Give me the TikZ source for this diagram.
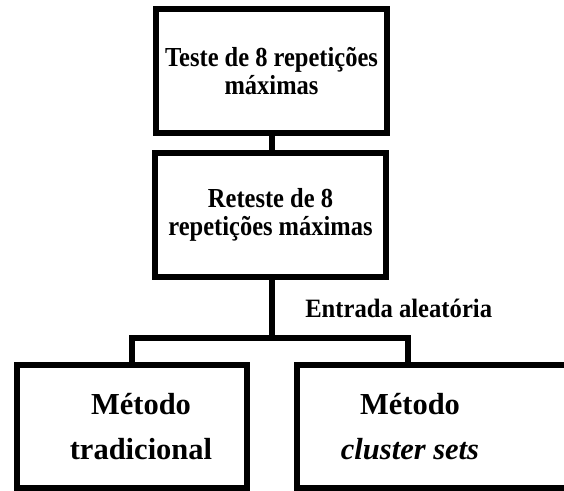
\documentclass[tikz,border=0pt]{standalone}
\usepackage{fontspec}
\setmainfont{Liberation Serif}
\newfontfamily\tallserif[FakeStretch=0.89]{Liberation Serif}
\newfontfamily\labelserif[FakeStretch=0.93]{Liberation Serif}
\begin{document}
\begin{tikzpicture}%
[x=1pt,y=-1pt,line width=6.5pt,line join=miter,%
stepbox/.style={draw, rectangle, inner sep=0pt, minimum width=231pt, minimum height=124pt, align=center, font=\tallserif\fontsize{27.5}{27.5}\selectfont\bfseries},%
methodbox/.style={draw, rectangle, inner sep=0pt, minimum height=123pt},%
methodtext/.style={align=center, inner sep=0pt, font=\fontsize{30.5}{45}\selectfont\bfseries}]

\useasboundingbox (0,0) rectangle (564,490);
\clip (0,0) rectangle (564,490);

\node[stepbox] (test) at (271.5,71) {Teste de 8 repetições\\máximas};
\node[stepbox] (retest) at (270.5,215) {Reteste de 8\\repetições máximas};

\node[methodbox, minimum width=230pt] (tradbox) at (132,426.5) {};
\node[methodbox, minimum width=303pt] (clusterbox) at (448.5,426.5) {};
\node[methodtext] (trad) at (141,427) {Método\\tradicional};
\node[methodtext] (cluster) at (410,427) {Método\\\textit{cluster sets}};

\coordinate (split) at (272,338);
\coordinate (drop) at (408,365);

\draw (test.south -| split) -- (retest.north -| split);
\draw (retest.south -| split) -- (split);
\draw (tradbox.north) |- (split) -| (drop);

\node[anchor=base west, inner sep=0pt, font=\labelserif\fontsize{26.5}{28}\selectfont\bfseries] (random) at (302,317) {Entrada aleatória};
\end{tikzpicture}
\end{document}
